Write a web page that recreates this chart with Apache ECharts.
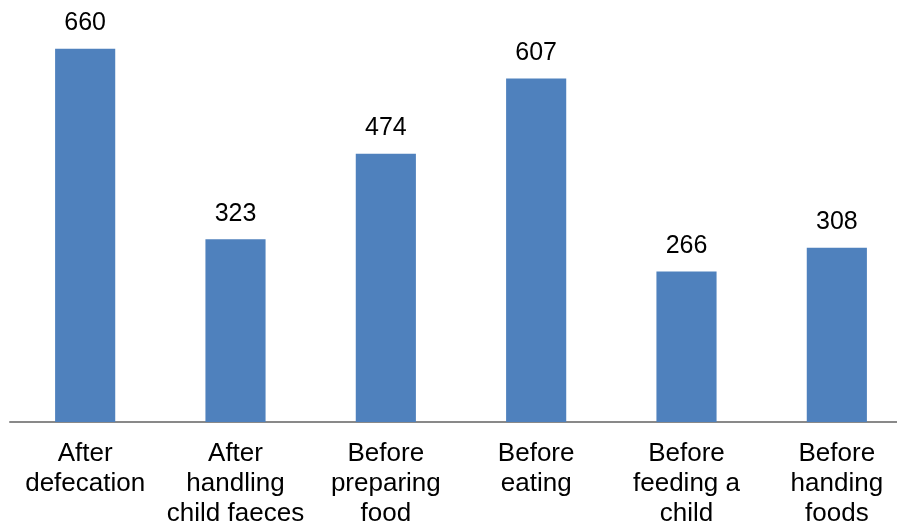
<!DOCTYPE html>
<html>
<head>
<meta charset="utf-8">
<script src="https://cdn.jsdelivr.net/npm/echarts@6/dist/echarts.min.js"></script>
<style>
  html, body { margin: 0; padding: 0; background: #fff; }
  #chart { width: 897px; height: 529px; }
</style>
</head>
<body>
<div id="chart"></div>
<script>
var categories = ['After\ndefecation', 'After\nhandling\nchild faeces', 'Before\npreparing\nfood', 'Before\neating', 'Before\nfeeding a\nchild', 'Before\nhanding\nfoods'];
var values = [660, 323, 474, 607, 266, 308];

var chart = echarts.init(document.getElementById('chart'));
var option = {
    animation: false,
    grid: {
        left: 10,
        top: 26,
        width: 902,
        bottom: 107,
        containLabel: false,
        outerBoundsMode: 'none'
    },
    xAxis: {
        type: 'category',
        data: categories,
        axisLine: { lineStyle: { color: '#898989', width: 2 } },
        axisTick: { show: false },
        axisLabel: {
            interval: 0,
            margin: 17,
            fontFamily: 'Liberation Sans, Arial, sans-serif',
            fontSize: 26,
            lineHeight: 30,
            color: '#000'
        }
    },
    yAxis: {
        type: 'value',
        min: 0,
        max: 700,
        show: false,
        splitLine: { show: false }
    },
    series: [{
        type: 'bar',
        data: values,
        barWidth: '40%',
        itemStyle: { color: '#4F81BD' },
        label: {
            show: true,
            position: 'top',
            distance: 13,
            fontFamily: 'Liberation Sans, Arial, sans-serif',
            fontSize: 25,
            color: '#000'
        }
    }]
};
chart.setOption(option);
</script>
</body>
</html>
